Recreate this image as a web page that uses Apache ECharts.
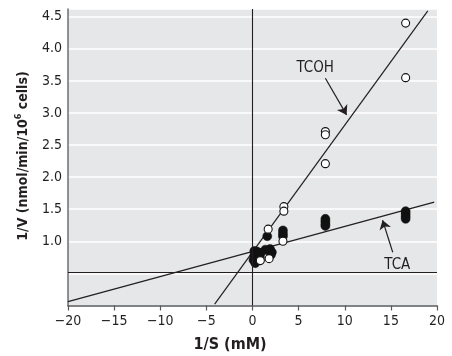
<!DOCTYPE html>
<html><head><meta charset="utf-8">
<script src="https://cdn.jsdelivr.net/npm/echarts@6/dist/echarts.min.js"></script>
<style>html,body{margin:0;padding:0;background:#fff}#c{width:452px;height:356px}</style>
</head><body><div id="c"></div>
<script>
// ---- data ----
const xTicks = [-20, -15, -10, -5, 0, 5, 10, 15, 20];
const yTickLabels = ['1.0', '1.5', '2.0', '2.5', '3.0', '3.5', '4.0', '4.5'];

// TCOH (open circles)
const tcohX = [16.6, 16.6, 7.9, 7.9, 7.9, 3.4, 3.4, 3.3, 1.7, 1.8, 0.85];
const tcohY = [4.40, 3.55, 2.71, 2.66, 2.21, 1.54, 1.47, 1.00, 1.19, 0.73, 0.70];

// TCA (filled circles)
const tcaX = [16.6, 16.6, 16.6, 16.6, 7.9, 7.9, 7.9, 7.9, 3.3, 3.3, 3.3, 1.6, 1.9, 2.1, 2.0, 1.4, 0.5, 0.2, 0.2, 0.1, 0.3, 0.9, 0.8];
const tcaY = [1.47, 1.43, 1.39, 1.35, 1.35, 1.31, 1.27, 1.24, 1.17, 1.12, 1.08, 1.08, 0.88, 0.83, 0.79, 0.87, 0.84, 0.85, 0.78, 0.71, 0.66, 0.82, 0.75];

// fitted lines (end points)
const tcohLineX = [-4.1, 19.0];
const tcohLineY = [0.02, 4.59];
const tcaLineX = [-20, 19.7];
const tcaLineY = [0.06, 1.61];

// reference lines
const zeroX = 0;
const baseY = 0.52;

// annotations
const labelNames = ['TCOH', 'TCA'];
const labelX = [6.8, 15.7];
const labelY = [3.70, 0.63];
const arrowFromX = [7.9, 15.2];
const arrowFromY = [3.54, 0.83];
const arrowToX = [10.2, 14.1];
const arrowToY = [2.97, 1.33];

const yMin = 0, yMax = 4.62;
const xMin = -20, xMax = 20;

// ---- chart ----
const FONT = '"DejaVu Sans Condensed", "Liberation Sans Narrow", sans-serif';
const INK = '#231f20';
const pairs = (xs, ys) => xs.map((x, i) => [x, ys[i]]);

const chart = echarts.init(document.getElementById('c'), null, { renderer: 'canvas' });

chart.setOption({
  animation: false,
  backgroundColor: '#ffffff',
  grid: { left: 68, right: 15, top: 9, bottom: 50.5, show: true, backgroundColor: '#e6e7e8', borderWidth: 0 },
  xAxis: {
    type: 'value', min: xMin, max: xMax, interval: 5,
    axisLine: { show: true, onZero: false, lineStyle: { color: '#58595b', width: 1.5 } },
    axisTick: { show: true, length: 5, lineStyle: { color: '#58595b', width: 1.2 } },
    axisLabel: {
      margin: 9, color: INK, fontFamily: FONT, fontSize: 14,
      formatter: v => xTicks.indexOf(v) >= 0 ? String(v).replace('-', '\u2212') : ''
    },
    splitLine: { show: false }
  },
  yAxis: {
    type: 'value', min: yMin, max: yMax, interval: 0.5,
    axisLine: { show: true, onZero: false, lineStyle: { color: '#6d6e71', width: 1.5 } },
    axisTick: { show: false },
    axisLabel: {
      margin: 6, color: INK, fontFamily: FONT, fontSize: 14,
      formatter: v => { const s = v.toFixed(1); return yTickLabels.indexOf(s) >= 0 && Math.abs(v * 2 - Math.round(v * 2)) < 1e-6 ? s : ''; }
    },
    splitLine: { show: true, lineStyle: { color: '#ffffff', width: 1.5 } }
  },
  series: [
    {
      type: 'line', data: pairs(tcaLineX, tcaLineY), symbol: 'none', silent: true,
      lineStyle: { color: INK, width: 1.2 }, z: 3,
      markLine: {
        silent: true, symbol: ['none', 'none'], animation: false,
        lineStyle: { color: INK, width: 1.1, type: 'solid' }, label: { show: false },
        data: [{ xAxis: zeroX }, { yAxis: baseY }]
      }
    },
    {
      type: 'line', data: pairs(tcohLineX, tcohLineY), symbol: 'none', silent: true,
      lineStyle: { color: INK, width: 1.2 }, z: 3,
      markLine: {
        silent: true, symbol: ['none', 'arrow'], symbolSize: 9, animation: false,
        itemStyle: { color: INK },
        lineStyle: { color: INK, width: 1.2, type: 'solid' }, label: { show: false },
        data: arrowFromX.map((x, i) => [{ coord: [x, arrowFromY[i]] }, { coord: [arrowToX[i], arrowToY[i]] }])
      },
      markPoint: {
        silent: true, symbol: 'circle', symbolSize: 0,
        label: { show: true, position: 'inside', color: INK, fontFamily: FONT, fontSize: 15 },
        data: labelNames.map((n, i) => ({ coord: [labelX[i], labelY[i]], value: n, label: { formatter: n } }))
      }
    },
    {
      type: 'scatter', data: pairs(tcaX, tcaY), symbol: 'circle', symbolSize: 9,
      itemStyle: { color: '#111', borderColor: '#111', borderWidth: 0.5, opacity: 1 }, z: 4
    },
    {
      type: 'scatter', data: pairs(tcohX, tcohY), symbol: 'circle', symbolSize: 8,
      itemStyle: { color: '#ffffff', borderColor: '#111', borderWidth: 1.1, opacity: 1 }, z: 5
    }
  ],
  graphic: [
    {
      type: 'text', x: 230, y: 345,
      style: { text: '1/S (mM)', font: 'bold 16px ' + FONT, fill: INK, align: 'center', verticalAlign: 'middle' }
    },
    {
      type: 'text', x: 22, y: 156, rotation: Math.PI / 2,
      style: {
        text: '{a|1/V (nmol/min/10}{s|6}{a| cells)}', align: 'center', verticalAlign: 'middle', fill: INK,
        rich: {
          a: { font: 'bold 14px ' + FONT, fill: INK, lineHeight: 16, verticalAlign: 'bottom' },
          s: { font: 'bold 9px ' + FONT, fill: INK, lineHeight: 16, verticalAlign: 'top' }
        }
      }
    }
  ]
});
</script>
</body></html>
